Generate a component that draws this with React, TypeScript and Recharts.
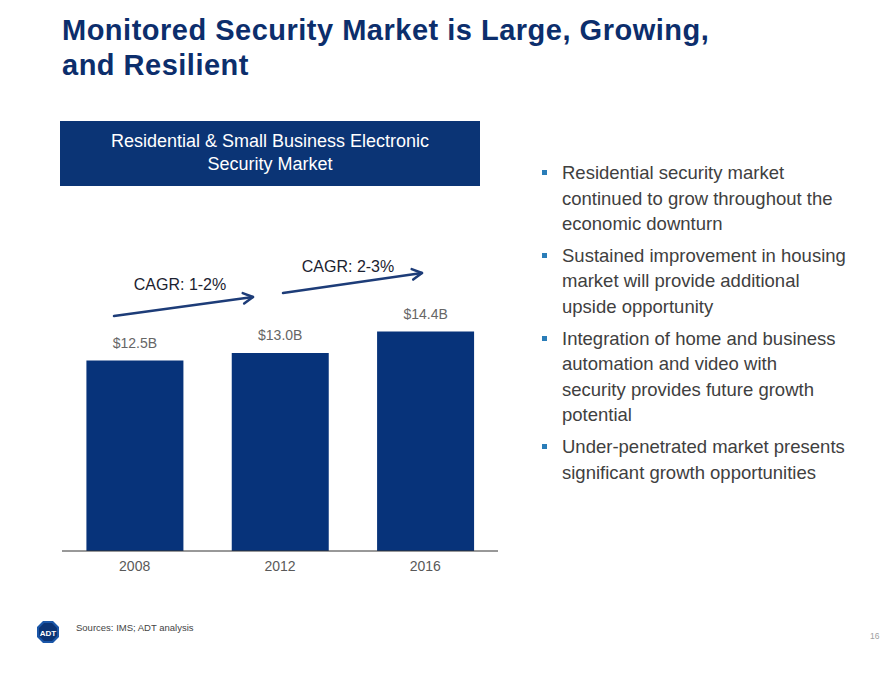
import { BarChart, Bar, XAxis, YAxis, LabelList } from "recharts";

const years = ["2008", "2012", "2016"];
const marketSize = [12.5, 13.0, 14.4];
const valueLabels = ["$12.5B", "$13.0B", "$14.4B"];
const cagrLabels = ["CAGR: 1-2%", "CAGR: 2-3%"];
const bullets = [
  ["Residential security market", "continued to grow throughout the", "economic downturn"],
  ["Sustained improvement in housing", "market will provide additional", "upside opportunity"],
  [
    "Integration of home and business",
    "automation and video with",
    "security provides future growth",
    "potential",
  ],
  ["Under-penetrated market presents", "significant growth opportunities"],
];

const chartData = years.map((year, i) => ({
  year,
  size: marketSize[i],
  label: valueLabels[i],
}));

const NAVY = "#07337a";
const SANS = '"Liberation Sans", Arial, sans-serif';

// annotation arrows (page pixels)
const arrows = [
  { x1: 114, y1: 316, x2: 253, y2: 297 },
  { x1: 283, y1: 293, x2: 422, y2: 273 },
];

function arrowHead(a: { x1: number; y1: number; x2: number; y2: number }) {
  const ang = Math.atan2(a.y2 - a.y1, a.x2 - a.x1);
  const len = 11;
  const spread = 0.5;
  const p1 = [a.x2 - len * Math.cos(ang - spread), a.y2 - len * Math.sin(ang - spread)];
  const p2 = [a.x2 - len * Math.cos(ang + spread), a.y2 - len * Math.sin(ang + spread)];
  return `${p1[0]},${p1[1]} ${a.x2},${a.y2} ${p2[0]},${p2[1]}`;
}

export default function App() {
  return (
    <div
      style={{
        position: "absolute",
        left: 0,
        top: 0,
        width: 889,
        height: 686,
        background: "#fff",
        fontFamily: SANS,
        overflow: "hidden",
      }}
    >
      <div
        style={{
          position: "absolute",
          left: 62,
          top: 13,
          fontSize: 29,
          fontWeight: 700,
          letterSpacing: 0.5,
          lineHeight: "35px",
          color: "#0c2e6c",
        }}
      >
        Monitored Security Market is Large, Growing,
        <br />
        and Resilient
      </div>

      <div
        style={{
          position: "absolute",
          left: 60,
          top: 121,
          width: 420,
          height: 65,
          background: "#0b3475",
          color: "#fff",
          fontSize: 18,
          lineHeight: "23px",
          textAlign: "center",
          paddingTop: 9,
          boxSizing: "border-box",
        }}
      >
        Residential &amp; Small Business Electronic
        <br />
        Security Market
      </div>

      <div style={{ position: "absolute", left: 62, top: 292 }}>
        <BarChart
          width={436}
          height={289}
          data={chartData}
          margin={{ top: 0, right: 0, bottom: 0, left: 0 }}
          barCategoryGap="16.8%"
        >
          <XAxis
            dataKey="year"
            height={30}
            tickLine={false}
            axisLine={{ stroke: "#333", strokeWidth: 1 }}
            tickMargin={4}
            tick={{ fill: "#595959", fontSize: 14, fontFamily: SANS }}
          />
          <YAxis hide domain={[0, 17]} />
          <Bar dataKey="size" fill={NAVY} isAnimationActive={false}>
            <LabelList
              dataKey="label"
              position="top"
              offset={13}
              fill="#666"
              fontSize={14}
              fontFamily={SANS}
            />
          </Bar>
        </BarChart>
      </div>

      <svg
        width={889}
        height={686}
        style={{ position: "absolute", left: 0, top: 0, pointerEvents: "none" }}
      >
        {arrows.map((a, i) => (
          <g key={i} stroke="#1d3c78" strokeWidth={2.5} fill="none" strokeLinecap="round">
            <line x1={a.x1} y1={a.y1} x2={a.x2} y2={a.y2} />
            <polyline points={arrowHead(a)} strokeLinejoin="round" />
          </g>
        ))}
        <text x={180} y={290} textAnchor="middle" fontSize={16} fill="#1b2230" fontFamily={SANS}>
          {cagrLabels[0]}
        </text>
        <text x={348} y={272} textAnchor="middle" fontSize={16} fill="#1b2230" fontFamily={SANS}>
          {cagrLabels[1]}
        </text>
      </svg>

      <div style={{ position: "absolute", left: 544, top: 160, width: 330 }}>
        {bullets.map((lines, i) => (
          <div key={i} style={{ position: "relative", marginBottom: 6 }}>
            <div
              style={{
                position: "absolute",
                left: -2,
                top: 10,
                width: 5,
                height: 5,
                background: "#2a7db8",
              }}
            />
            <div
              style={{
                marginLeft: 18,
                fontSize: 18.5,
                lineHeight: "25.6px",
                color: "#404040",
                whiteSpace: "nowrap",
              }}
            >
              {lines.map((l, j) => (
                <div key={j}>{l}</div>
              ))}
            </div>
          </div>
        ))}
      </div>

      <svg width={24} height={24} style={{ position: "absolute", left: 36, top: 620 }}>
        <polygon points="7,1 17,1 23,7 23,17 17,23 7,23 1,17 1,7" fill="#1a56a8" />
        <polygon points="8,3 16,3 21,8 21,16 16,21 8,21 3,16 3,8" fill="#0b3475" />
        <text x={12} y={15.5} textAnchor="middle" fontSize={8} fontWeight={700} fill="#fff" fontFamily={SANS}>
          ADT
        </text>
      </svg>
      <div
        style={{
          position: "absolute",
          left: 76,
          top: 622,
          fontSize: 9.5,
          color: "#444",
        }}
      >
        Sources: IMS; ADT analysis
      </div>
      <div
        style={{
          position: "absolute",
          left: 870,
          top: 631,
          fontSize: 8.5,
          color: "#a0a0a0",
        }}
      >
        16
      </div>
    </div>
  );
}
